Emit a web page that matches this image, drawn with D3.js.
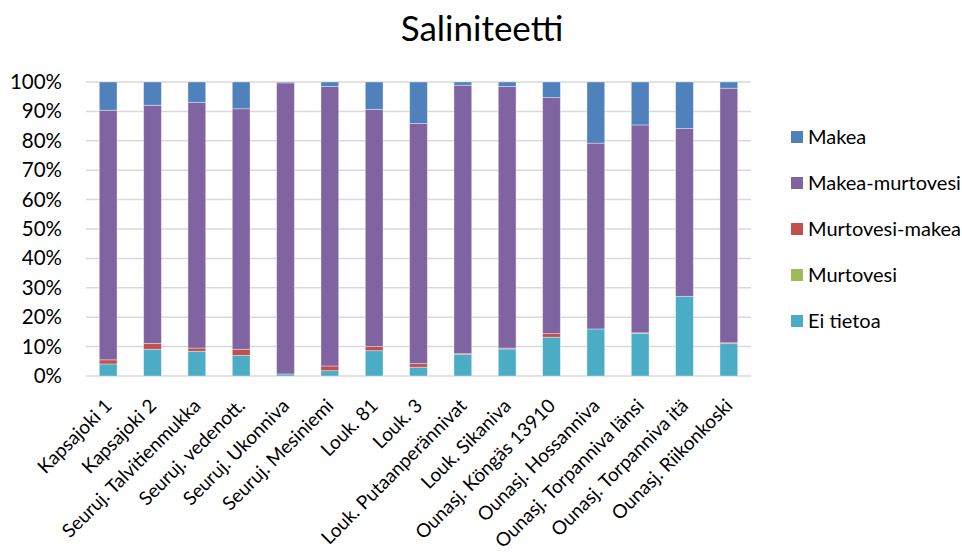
<!DOCTYPE html>
<html>
<head>
<meta charset="utf-8">
<script src="https://cdn.jsdelivr.net/npm/d3@7/dist/d3.min.js"></script>
<style>
  body { margin: 0; background: #fff; }
  svg text { font-family: Lato, "Open Sans", sans-serif; fill: #000; }
</style>
</head>
<body>
<svg id="chart" width="962" height="554"></svg>
<script>
// Sampling sites along the x axis
const categories = [
  "Kapsajoki 1", "Kapsajoki 2", "Seuruj. Talvitienmukka", "Seuruj. vedenott.",
  "Seuruj. Ukonniva", "Seuruj. Mesiniemi", "Louk. 81", "Louk. 3",
  "Louk. Putaanperännivat", "Louk. Sikaniva", "Ounasj. Köngäs 13910",
  "Ounasj. Hossanniva", "Ounasj. Torpanniva länsi", "Ounasj. Torpanniva itä",
  "Ounasj. Riikonkoski"
];

// Share of each salinity class per site (%), stacked bottom to top
const eiTietoa        = [4.1, 9.1, 8.4, 7.0, 0.7, 1.8, 8.6, 3.0, 7.3, 9.2, 13.2, 16.0, 14.5, 27.1, 11.0];
const murtovesi       = [0, 0, 0, 0, 0, 0, 0, 0, 0, 0, 0, 0, 0, 0, 0];
const murtovesiMakea  = [1.4, 2.0, 1.1, 2.1, 0, 1.6, 1.4, 1.2, 0.3, 0.3, 1.2, 0, 0.2, 0, 0.3];
const makeaMurtovesi  = [84.9, 81.0, 83.6, 81.8, 99.0, 95.1, 80.7, 81.7, 91.3, 89.0, 80.3, 63.2, 70.7, 57.1, 86.6];
const makea           = [9.6, 7.9, 6.9, 9.1, 0.3, 1.5, 9.3, 14.1, 1.1, 1.5, 5.3, 20.8, 14.6, 15.8, 2.1];

// Series in stacking order (bottom first)
const seriesNames = ["Ei tietoa", "Murtovesi", "Murtovesi-makea", "Makea-murtovesi", "Makea"];
const seriesValues = [eiTietoa, murtovesi, murtovesiMakea, makeaMurtovesi, makea];
const seriesColors = ["#4BACC6", "#9BBB59", "#C0504D", "#8064A2", "#4F81BD"];

// Legend order (top to bottom)
const legendOrder = ["Makea", "Makea-murtovesi", "Murtovesi-makea", "Murtovesi", "Ei tietoa"];

const yTicks = [0, 10, 20, 30, 40, 50, 60, 70, 80, 90, 100];

const svg = d3.select("#chart");
const plot = { left: 86, right: 751, top: 82, bottom: 376 };
const fontFamily = "Lato, 'Open Sans', sans-serif";

const table = categories.map((c, i) => {
  const row = { site: c };
  seriesNames.forEach((s, k) => { row[s] = seriesValues[k][i]; });
  return row;
});
const stacked = d3.stack().keys(seriesNames).offset(d3.stackOffsetExpand)(table);

const x = d3.scaleBand().domain(categories).range([plot.left, plot.right]).paddingInner(0.6).paddingOuter(0.3);
const y = d3.scaleLinear().domain([0, 100]).range([plot.bottom, plot.top]);
const color = d3.scaleOrdinal().domain(seriesNames).range(seriesColors);

// Title
svg.append("text")
  .attr("x", 482).attr("y", 41)
  .attr("text-anchor", "middle")
  .style("font-size", "35px")
  .text("Saliniteetti");

// Horizontal gridlines
svg.append("g")
  .selectAll("line").data(yTicks).join("line")
  .attr("x1", plot.left).attr("x2", plot.right)
  .attr("y1", d => y(d)).attr("y2", d => y(d))
  .attr("stroke", "#d9d9d9").attr("stroke-width", 1.5);

// Y axis labels
const yAxis = d3.axisLeft(y).tickValues(yTicks).tickSize(0).tickPadding(0).tickFormat(d => d + "%");
svg.append("g")
  .attr("transform", `translate(${plot.left - 24},0)`)
  .call(yAxis)
  .call(g => g.select(".domain").remove())
  .selectAll("text")
  .style("font-size", "20.5px")
  .style("font-family", fontFamily)
  .attr("fill", "#000");

// Stacked bars
svg.append("g")
  .selectAll("g").data(stacked).join("g")
  .attr("fill", d => color(d.key))
  .selectAll("rect").data(d => d).join("rect")
  .attr("x", d => x(d.data.site))
  .attr("width", x.bandwidth())
  .attr("y", d => y(d[1] * 100))
  .attr("height", d => Math.max(0, y(d[0] * 100) - y(d[1] * 100)))
  .attr("stroke", "#ffffff").attr("stroke-opacity", 0.45).attr("stroke-width", 0.8);

// X axis category labels, rotated
const xAxis = d3.axisBottom(x).tickSize(0).tickPadding(0);
svg.append("g")
  .attr("transform", `translate(0,${plot.bottom})`)
  .call(xAxis)
  .call(g => g.select(".domain").remove())
  .selectAll("text")
  .style("font-size", "19px")
  .style("font-family", fontFamily)
  .attr("fill", "#000")
  .attr("text-anchor", "end")
  .attr("dy", "0")
  .attr("y", 0)
  .attr("transform", "translate(5,31) rotate(-45)");

// Legend
const legend = svg.append("g");
legendOrder.forEach((name, i) => {
  const cy = 137 + i * 46;
  legend.append("rect")
    .attr("x", 791).attr("y", cy - 6).attr("width", 12).attr("height", 12)
    .attr("fill", color(name));
  legend.append("text")
    .attr("x", 808).attr("y", cy).attr("dy", "0.35em")
    .style("font-size", "20px")
    .text(name);
});
</script>
</body>
</html>
